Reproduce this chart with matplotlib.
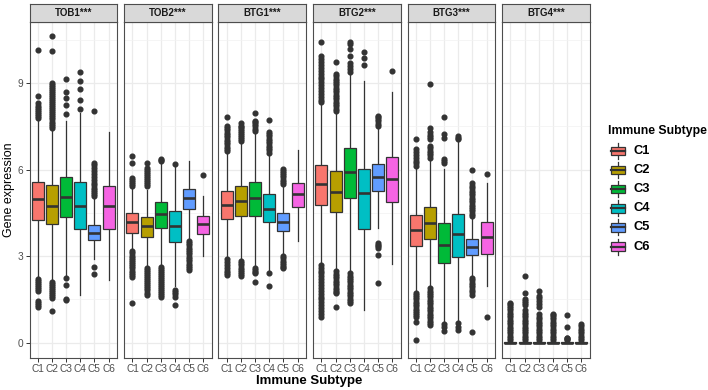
import matplotlib
matplotlib.use("Agg")
import matplotlib.pyplot as plt
from matplotlib.patches import Rectangle

plt.rcParams['font.family'] = ['Liberation Sans', 'DejaVu Sans']

genes = ["TOB1***", "TOB2***", "BTG1***", "BTG2***", "BTG3***", "BTG4***"]
subtypes = ["C1", "C2", "C3", "C4", "C5", "C6"]
colors = ["#F8766D", "#B79F00", "#00BA38", "#00BFC4", "#619CFF", "#F564E3"]

# per subtype: (whisker_low, q1, median, q3, whisker_high)
TOB1_stats = [(2.30, 4.25, 4.98, 5.58, 7.70), (2.18, 4.12, 4.74, 5.46, 7.40),
              (2.30, 4.36, 5.05, 5.75, 7.70), (1.66, 3.93, 4.74, 5.57, 7.98),
              (2.90, 3.55, 3.80, 4.08, 4.97), (2.18, 3.93, 4.73, 5.45, 7.31)]
TOB1_out = [
    [2.22, 2.15, 2.08, 2.0, 1.92, 1.85, 1.78, 1.46, 1.38, 1.3, 1.25,
     7.78, 7.85, 7.92, 8.0, 8.08, 8.15, 8.22, 8.3, 8.56, 10.16],
    [2.12, 2.05, 1.98, 1.91, 1.84, 1.77, 1.7, 1.62, 1.55, 1.11,
     7.46, 7.53, 7.6, 7.67, 7.74, 7.81, 7.88, 7.95, 8.02, 8.09, 8.16, 8.23, 8.3,
     8.37, 8.44, 8.51, 8.58, 8.65, 8.72, 8.79, 8.86, 8.93, 9.02, 10.1, 10.64],
    [2.23, 2.0, 1.52, 1.47, 7.92, 8.24, 8.48, 8.7, 9.15],
    [8.1, 8.42, 8.8, 9.08, 9.37],
    [2.64, 2.38, 5.08, 5.15, 5.22, 5.3, 5.38, 5.46, 5.55, 5.64, 5.75, 5.85,
     5.95, 6.05, 6.15, 6.24, 8.02],
    [],
]

TOB2_stats = [(3.22, 3.82, 4.19, 4.49, 5.37), (2.64, 3.67, 4.04, 4.37, 5.31),
              (2.70, 3.98, 4.47, 4.88, 6.24), (1.95, 3.48, 4.04, 4.56, 6.13),
              (3.60, 4.64, 5.02, 5.34, 6.30), (3.02, 3.77, 4.12, 4.39, 5.10)]
TOB2_out = [
    [3.17, 3.1, 3.02, 2.95, 2.88, 2.8, 2.72, 2.65, 2.58, 2.5, 2.42, 2.35, 2.28,
     1.39, 5.43, 5.5, 5.57, 5.64, 5.72, 6.24, 6.47],
    [2.59, 2.52, 2.45, 2.38, 2.31, 2.24, 2.17, 2.1, 2.03, 1.96, 1.89, 1.82,
     1.74, 1.66, 5.43, 5.5, 5.57, 5.64, 5.71, 5.78, 5.85, 5.92, 6.0, 6.07, 6.24],
    [2.64, 2.57, 2.5, 2.43, 2.36, 2.29, 2.22, 2.15, 2.08, 2.01, 1.94, 1.87,
     1.8, 1.73, 1.66, 1.6, 6.3, 6.34, 6.38],
    [1.83, 1.76, 1.68, 1.6, 1.31, 6.21],
    [3.52, 3.45, 3.38, 3.3, 3.22, 3.14, 3.06, 2.98, 2.9, 2.82, 2.74, 2.66,
     2.58, 2.53],
    [5.82],
]

BTG1_stats = [(2.97, 4.29, 4.76, 5.26, 6.59), (2.88, 4.39, 4.90, 5.45, 6.94),
              (2.64, 4.39, 5.01, 5.57, 7.29), (2.53, 4.19, 4.62, 5.15, 6.53),
              (3.05, 3.89, 4.20, 4.50, 5.41), (3.52, 4.71, 5.15, 5.55, 6.68)]
BTG1_out = [
    [2.9, 2.8, 2.7, 2.6, 2.5, 2.42, 2.35, 6.65, 6.72, 6.8, 6.88, 6.96, 7.04,
     7.12, 7.2, 7.28, 7.36, 7.44, 7.52, 7.81],
    [2.82, 2.75, 2.68, 2.6, 2.52, 2.45, 2.38, 2.3, 7.0, 7.07, 7.14, 7.21, 7.28,
     7.35, 7.42, 7.48, 7.52, 7.61],
    [2.59, 2.52, 2.45, 2.41, 2.1, 7.34, 7.42, 7.5, 7.58, 7.66, 7.69, 7.95],
    [2.41, 1.98, 6.59, 6.67, 6.75, 6.83, 6.91, 6.99, 7.07, 7.15, 7.22, 7.29,
     7.71],
    [2.99, 2.92, 2.85, 2.78, 2.7, 2.63, 2.59, 5.49, 5.57, 5.65, 5.73, 5.81,
     5.89, 5.96, 6.01],
    [],
]

BTG2_stats = [(2.74, 4.79, 5.49, 6.17, 8.27), (2.53, 4.54, 5.23, 5.94, 7.98),
              (2.47, 5.02, 5.93, 6.76, 9.32), (1.14, 3.94, 5.20, 6.01, 9.08),
              (3.98, 5.26, 5.74, 6.19, 7.46), (2.73, 4.88, 5.66, 6.45, 8.70)]
BTG2_out = [
    [2.7, 2.6, 2.5, 2.4, 2.3, 2.2, 2.1, 2.0, 1.9, 1.8, 1.7, 1.6, 1.5, 1.4,
     1.3, 1.2, 1.1, 1.0, 0.9,
     8.33, 8.43, 8.53, 8.63, 8.73, 8.83, 8.93, 9.03, 9.13, 9.23, 9.33, 9.43,
     9.53, 9.63, 9.73, 9.83, 9.95, 10.42],
    [2.47, 2.39, 2.31, 2.23, 2.15, 2.07, 1.99, 1.91, 1.83, 1.75, 1.72, 1.25,
     8.04, 8.12, 8.2, 8.28, 8.36, 8.44, 8.52, 8.6, 8.68, 8.76, 8.84, 8.92,
     9.0, 9.08, 9.16, 9.24, 9.32, 9.72],
    [2.41, 2.33, 2.25, 2.17, 2.09, 2.01, 1.93, 1.85, 1.77, 1.69, 1.61, 1.53,
     1.45, 1.37, 9.4, 9.5, 9.6, 9.7, 9.95, 10.2, 10.35, 10.44],
    [9.63, 9.86, 10.09],
    [3.46, 3.4, 3.34, 3.28, 3.05, 2.06, 7.52, 7.6, 7.68, 7.76, 7.83, 7.87],
    [9.42],
]

BTG3_stats = [(1.77, 3.34, 3.90, 4.43, 6.07), (1.95, 3.60, 4.15, 4.71, 6.36),
              (0.73, 2.76, 3.39, 4.15, 6.03), (0.73, 2.96, 3.77, 4.48, 6.96),
              (2.30, 3.05, 3.32, 3.60, 4.30), (1.95, 3.07, 3.68, 4.19, 5.55)]
BTG3_out = [
    [1.74, 1.66, 1.58, 1.5, 1.42, 1.34, 1.26, 1.18, 1.1, 1.02, 0.95, 0.9,
     0.73, 0.09, 6.13, 6.22, 6.3, 6.4, 6.5, 6.6, 6.71, 7.08],
    [1.89, 1.81, 1.73, 1.65, 1.57, 1.49, 1.41, 1.33, 1.25, 1.17, 1.09, 1.01,
     0.93, 0.85, 0.77, 0.69, 0.61, 6.42, 6.5, 6.58, 6.66, 6.74, 6.82,
     7.05, 7.13, 7.21, 7.29, 7.46, 8.96],
    [0.65, 0.55, 0.42, 6.24, 6.3, 6.36, 7.11, 7.23, 7.81],
    [0.67, 0.55, 0.44, 7.05, 7.11, 7.17],
    [2.24, 2.16, 2.08, 2.0, 1.92, 1.84, 1.76, 1.66, 0.36,
     4.39, 4.47, 4.55, 4.63, 4.71, 4.79, 4.87, 4.95, 5.03, 5.11, 5.19, 5.27,
     5.35, 5.43, 5.55, 5.99],
    [0.9, 5.86],
]

BTG4_stats = [(0.0, 0.0, 0.0, 0.02, 0.04)] * 6
BTG4_out = [
    [0.08, 0.16, 0.24, 0.32, 0.4, 0.48, 0.56, 0.64, 0.72, 0.8, 0.88, 0.96,
     1.04, 1.12, 1.2, 1.28, 1.34, 1.39],
    [0.08, 0.16, 0.24, 0.32, 0.4, 0.48, 0.56, 0.64, 0.72, 0.8, 0.88, 0.96,
     1.04, 1.12, 1.31, 1.38, 1.45, 1.51, 1.72, 2.32],
    [0.09, 0.17, 0.25, 0.33, 0.41, 0.49, 0.57, 0.65, 0.73, 0.81, 0.89, 0.99,
     1.25, 1.35, 1.45, 1.55, 1.62, 1.81],
    [0.09, 0.17, 0.25, 0.33, 0.41, 0.49, 0.57, 0.65, 0.73, 0.81, 0.89, 0.95,
     1.0],
    [0.08, 0.12, 0.15, 0.18, 0.53, 0.96],
    [0.09, 0.17, 0.25, 0.33, 0.41, 0.49, 0.57, 0.65],
]

all_stats = [TOB1_stats, TOB2_stats, BTG1_stats, BTG2_stats, BTG3_stats, BTG4_stats]
all_out = [TOB1_out, TOB2_out, BTG1_out, BTG2_out, BTG3_out, BTG4_out]

W, H = 708, 390
fig = plt.figure(figsize=(W / 100, H / 100), dpi=100)

panel_left = [29.5, 124, 218.5, 313, 407.5, 502]
panel_w = 87.5
p_top, p_bot = 22, 358
s_top = 3.5
dark = "#333333"

for gi, gene in enumerate(genes):
    x0 = panel_left[gi]
    ax = fig.add_axes([x0 / W, 1 - p_bot / H, panel_w / W, (p_bot - p_top) / H])
    ax.set_facecolor("white")
    stats = []
    for si, (wl, q1, md, q3, wh) in enumerate(all_stats[gi]):
        stats.append(dict(whislo=wl, q1=q1, med=md, q3=q3, whishi=wh,
                          fliers=all_out[gi][si], label=subtypes[si]))
    bp = ax.bxp(stats, positions=range(1, 7), widths=0.85, patch_artist=True,
                showcaps=False, showfliers=True,
                boxprops=dict(edgecolor=dark, linewidth=0.9),
                medianprops=dict(color=dark, linewidth=1.9, solid_capstyle='butt'),
                whiskerprops=dict(color=dark, linewidth=0.9),
                flierprops=dict(marker='o', markerfacecolor=dark,
                                markeredgecolor=dark, markersize=3.4,
                                linestyle='none'))
    for patch, c in zip(bp['boxes'], colors):
        patch.set_facecolor(c)
        patch.set_zorder(3)
    for m in bp['medians']:
        m.set_zorder(4)
    ax.set_xlim(0.4, 6.6)
    ax.set_ylim(-0.53, 11.12)
    ax.set_yticks([0, 3, 6, 9])
    ax.set_yticks([1.5, 4.5, 7.5, 10.5], minor=True)
    ax.set_xticks(range(1, 7))
    ax.set_xticklabels(subtypes)
    ax.grid(True, which='major', color='#EBEBEB', linewidth=0.9, zorder=0)
    ax.grid(True, which='minor', axis='y', color='#F2F2F2', linewidth=0.5, zorder=0)
    ax.set_axisbelow(True)
    ax.tick_params(axis='both', which='major', length=2.8, width=0.7, color=dark,
                   labelcolor='#4D4D4D', labelsize=7.3, pad=1.5)
    ax.tick_params(axis='both', which='minor', length=0)
    if gi > 0:
        ax.tick_params(axis='y', which='major', length=0, labelleft=False)
    for sp in ax.spines.values():
        sp.set_color('#4D4D4D')
        sp.set_linewidth(0.8)
    # strip
    sax = fig.add_axes([x0 / W, 1 - p_top / H, panel_w / W, (p_top - s_top) / H])
    sax.set_facecolor('#D9D9D9')
    sax.set_xticks([])
    sax.set_yticks([])
    for sp in sax.spines.values():
        sp.set_color('#4D4D4D')
        sp.set_linewidth(0.8)
    sax.text(0.5, 0.47, gene, ha='center', va='center', fontsize=7,
             fontweight='bold', color='#1A1A1A', transform=sax.transAxes)

# axis titles
fig.text(((panel_left[0] + panel_left[-1] + panel_w) / 2) / W, 1 - 381 / H,
         "Immune Subtype", ha='center', va='center', fontsize=9.5,
         fontweight='bold', color='black')
fig.text(9 / W, 1 - 190 / H, "Gene expression", ha='center', va='center',
         rotation=90, fontsize=9, color='black')

# legend
lax = fig.add_axes([0, 0, 1, 1], zorder=5)
lax.set_xlim(0, W)
lax.set_ylim(H, 0)
lax.axis('off')
lax.patch.set_alpha(0)
lax.text(608, 131, "Immune Subtype", ha='left', va='center', fontsize=8.8,
         fontweight='bold', color='black')
for i, (lab, c) in enumerate(zip(subtypes, colors)):
    yc = 151 + 19.1 * i
    xc = 617.7
    lax.plot([xc, xc], [yc - 8, yc + 8], color=dark, lw=0.9)
    lax.add_patch(Rectangle((610.5, yc - 4.2), 14.5, 8.4, facecolor=c,
                            edgecolor=dark, lw=0.9, zorder=3))
    lax.plot([610.5, 625], [yc, yc], color=dark, lw=1.6, zorder=4)
    lax.text(634, yc, lab, ha='left', va='center', fontsize=9.3,
             fontweight='bold', color='black')

fig.savefig("out.png", dpi=100)
